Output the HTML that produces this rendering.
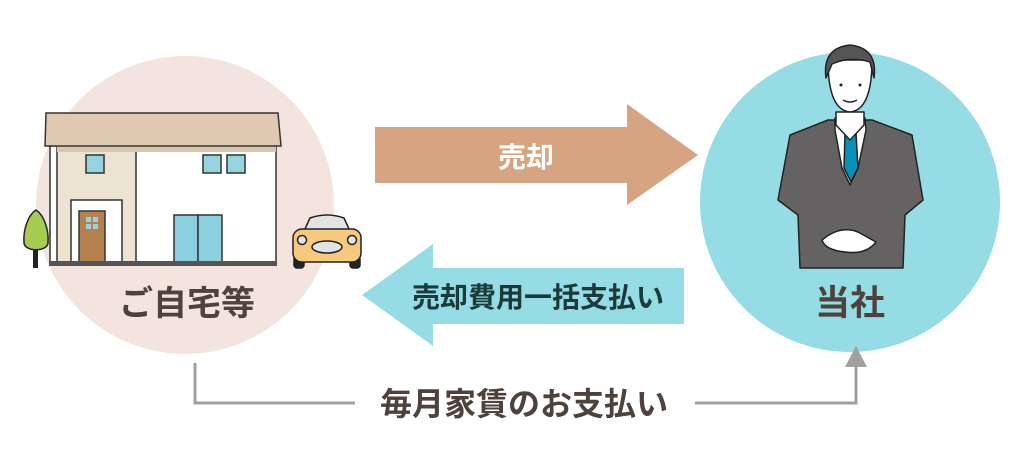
<!DOCTYPE html>
<html><head><meta charset="utf-8"><style>
html,body{margin:0;padding:0;background:#fff;}
body{width:1024px;height:454px;overflow:hidden;}
svg text{font-family:"Liberation Sans","Noto Sans CJK JP",sans-serif;font-weight:bold;}
</style></head><body>
<svg width="1024" height="454" viewBox="0 0 1024 454" xmlns="http://www.w3.org/2000/svg">
<circle cx="185" cy="205" r="149" fill="#f3e5dd"/>
<circle cx="850" cy="202" r="150" fill="#95dce4"/>
<!-- house -->
<g stroke="#333" stroke-width="1.5">
<rect x="50" y="146" width="226" height="118" fill="#fff"/>
<rect x="57" y="146" width="79" height="118" fill="#ece3d0"/>
<rect x="57" y="146" width="219" height="6" fill="#d6c6ad" stroke="none"/>
<polygon points="46,113 278,113 281,146 45,146" fill="#dfcab1"/>
<rect x="71" y="200" width="51" height="63" fill="#fff"/>
<rect x="79" y="211" width="26" height="52" fill="#b5814f"/>
<rect x="86" y="155" width="18" height="18" fill="#95d3e0"/>
<rect x="203" y="155" width="18" height="18" fill="#95d3e0"/>
<rect x="227" y="155" width="18" height="18" fill="#95d3e0"/>
<rect x="174" y="215" width="24" height="47" fill="#8ccfde"/>
<rect x="198" y="215" width="24" height="47" fill="#8ccfde"/>
</g>
<rect x="86" y="217" width="5" height="5" fill="#95d3e0"/><rect x="93" y="217" width="5" height="5" fill="#95d3e0"/>
<rect x="86" y="224" width="5" height="5" fill="#95d3e0"/><rect x="93" y="224" width="5" height="5" fill="#95d3e0"/>
<rect x="49" y="261" width="228" height="5" fill="#555"/>
<!-- tree -->
<rect x="33" y="245" width="5" height="23" fill="#222"/>
<path d="M36,210 C28,215 23,230 24,243 C25,252 47,252 48,243 C49,230 44,215 36,210Z" fill="#a6cc52" stroke="#222" stroke-width="1.5"/>
<!-- car -->
<g stroke="#222" stroke-width="1.5">
<rect x="294" y="256" width="10" height="12" rx="3" fill="#222"/>
<rect x="350" y="256" width="10" height="12" rx="3" fill="#222"/>
<path d="M304,231 L310,218 Q327,212 344,218 L350,231Z" fill="#e3e3e3"/>
<rect x="293" y="229" width="68" height="33" rx="9" fill="#f7c97c"/>
<ellipse cx="327" cy="247" rx="15" ry="6" fill="#e3e3e3"/>
<circle cx="302" cy="240" r="4.5" fill="#e3e3e3"/>
<circle cx="352" cy="240" r="4.5" fill="#e3e3e3"/>
</g>
<text x="187" y="315" font-size="34" fill="#4e423c" text-anchor="middle">ご自宅等</text>
<!-- man -->
<g stroke="#222" stroke-width="1.5" stroke-linejoin="round">
<path d="M800,268 L798,215 L778,200 L790,135 L828,120 L872,120 L912,135 L923,200 L905,215 L903,268Z" fill="#646262"/>
<path d="M835,118 L850,135 L865,118 L866,130 L858,168 L850,185 L842,168 L835,130Z" fill="#fff"/>
<path d="M845,133 L856,133 L858,168 L851,182 L844,168Z" fill="#0a8fb8"/>
<path d="M836,112 L836,125 L850,140 L864,125 L864,112Z" fill="#fff"/>
<path d="M828,60 Q828,110 850,112 Q872,110 872,60Z" fill="#fff"/>
<path d="M826,78 Q822,48 850,45 Q878,48 874,78 L870,62 Q850,56 832,64Z" fill="#555"/>
<path d="M822,240 Q840,225 858,232 L876,242 Q866,255 845,252 Q825,250 822,240Z" fill="#fff"/>
</g>
<circle cx="841" cy="85" r="1.5" fill="#222"/><circle cx="860" cy="85" r="1.5" fill="#222"/>
<path d="M843,100 Q850,104 857,100" stroke="#222" stroke-width="1.5" fill="none"/>
<text x="850" y="315" font-size="35" fill="#4e423c" text-anchor="middle">当社</text>
<!-- arrows -->
<polygon points="375,127 627,127 627,104 698,155 627,205 627,183 375,183" fill="#d6a481"/>
<text x="526" y="167" font-size="28" fill="#fff" text-anchor="middle">売却</text>
<polygon points="684,268 433,268 433,244 362,295 433,346 433,324 684,324" fill="#95dce4"/>
<text x="538" y="307" font-size="28" fill="#1c3a3a" text-anchor="middle">売却費用一括支払い</text>
<!-- bottom -->
<polyline points="195,363 195,403 355,403" fill="none" stroke="#a0a0a0" stroke-width="3"/>
<polyline points="695,403 856,403 856,366" fill="none" stroke="#a0a0a0" stroke-width="3"/>
<polygon points="845,367 867,367 856,346" fill="#a0a0a0"/>
<text x="524" y="415" font-size="32" fill="#4e423c" text-anchor="middle">毎月家賃のお支払い</text>
</svg>
</body></html>
